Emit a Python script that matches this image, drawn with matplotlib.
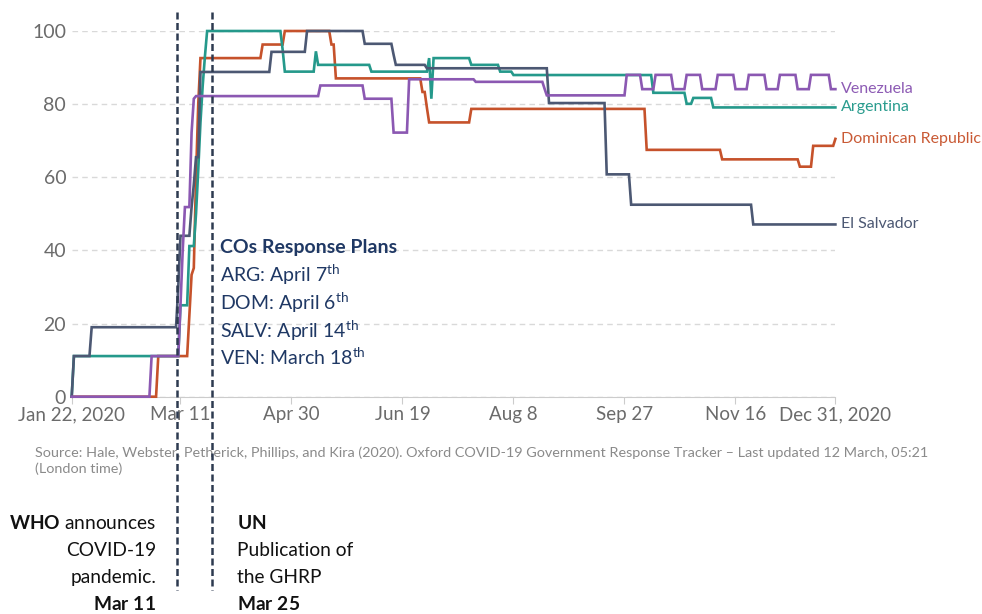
import matplotlib
matplotlib.use('Agg')
import matplotlib.pyplot as plt
from matplotlib.lines import Line2D
import pandas as pd

plt.rcParams['font.family'] = ['Lato', 'DejaVu Sans']
plt.rcParams['mathtext.fontset'] = 'custom'
plt.rcParams['mathtext.rm'] = 'Lato'
plt.rcParams['mathtext.it'] = 'Lato:italic'
plt.rcParams['mathtext.bf'] = 'Lato:bold'

# stringency index, each value holds from its date on
arg_dates = ['2020-01-22', '2020-01-23', '2020-03-11', '2020-03-15', '2020-03-18',
             '2020-03-19', '2020-03-20', '2020-03-21', '2020-03-22', '2020-03-23',
             '2020-04-26', '2020-04-27', '2020-05-11', '2020-05-12', '2020-06-05',
             '2020-07-01', '2020-07-02', '2020-07-03', '2020-07-20', '2020-08-02',
             '2020-08-08', '2020-10-10', '2020-10-25', '2020-10-28', '2020-11-06']
arg_values = [0, 11.11, 25.0, 41.2, 50, 62, 75, 85, 93, 100,
              95, 88.89, 94.44, 90.74, 88.89,
              92.59, 81.48, 92.59, 90.74, 88.89,
              87.96, 83.1, 80.09, 81.7, 79.1]

dom_dates = ['2020-01-22', '2020-03-01', '2020-03-15', '2020-03-16', '2020-03-17',
             '2020-03-18', '2020-03-19', '2020-03-20', '2020-04-17', '2020-04-27',
             '2020-05-18', '2020-05-20', '2020-06-28', '2020-06-30', '2020-07-01',
             '2020-07-20', '2020-10-07', '2020-11-10', '2020-12-15', '2020-12-21',
             '2020-12-31']
dom_values = [0, 11.11, 22, 33.33, 35.19,
              60, 80, 92.59, 96.3, 100,
              96.3, 87.04, 83.33, 79, 75.0,
              78.7, 67.5, 64.9, 62.9, 68.6,
              70.5]

slv_dates = ['2020-01-22', '2020-01-23', '2020-01-31', '2020-03-10', '2020-03-11',
             '2020-03-16', '2020-03-17', '2020-03-18', '2020-03-20', '2020-04-21',
             '2020-05-07', '2020-06-02', '2020-06-15', '2020-06-16', '2020-06-30',
             '2020-08-24', '2020-09-19', '2020-09-30', '2020-11-24']
slv_values = [0, 11.11, 19.0, 30, 44.0,
              51.85, 58, 65.5, 88.8, 94.3,
              100, 96.5, 93.5, 90.74, 89.81,
              80.3, 60.8, 52.5, 47.1]

ven_dates = ['2020-01-22', '2020-02-27', '2020-03-11', '2020-03-12', '2020-03-13',
             '2020-03-16', '2020-03-17', '2020-03-18', '2020-05-13', '2020-06-02',
             '2020-06-15', '2020-06-22', '2020-07-22', '2020-08-22', '2020-08-23',
             '2020-09-28', '2020-10-05', '2020-10-11', '2020-10-19', '2020-10-25',
             '2020-11-01', '2020-11-08', '2020-11-16', '2020-11-22', '2020-11-30',
             '2020-12-06', '2020-12-14', '2020-12-20', '2020-12-29']
ven_values = [0, 11.11, 25, 40, 51.85,
              72.22, 81.48, 82.2, 85.1, 81.48,
              72.22, 86.8, 86.1, 84.2, 82.4,
              88.0, 84.1, 88.0, 84.1, 88.0,
              84.1, 88.0, 84.1, 88.0, 84.1,
              88.0, 84.1, 88.0, 84.1]

countries = ['Dominican Republic', 'Argentina', 'El Salvador', 'Venezuela']
colors = ['#c6522b', '#25998b', '#4c5873', '#8b58b2']
label_colors = ['#c95a35', '#2a9c8e', '#4c5873', '#8d5bb4']
series_dates = [dom_dates, arg_dates, slv_dates, ven_dates]
series_values = [dom_values, arg_values, slv_values, ven_values]

tick_dates = ['2020-01-22', '2020-03-11', '2020-04-30', '2020-06-19',
              '2020-08-08', '2020-09-27', '2020-11-16', '2020-12-31']
tick_labels = ['Jan 22, 2020', 'Mar 11', 'Apr 30', 'Jun 19',
               'Aug 8', 'Sep 27', 'Nov 16', 'Dec 31, 2020']

days = pd.date_range('2020-01-22', '2020-12-31', freq='D')


def daily(dates, values):
    s = pd.Series(values, index=pd.to_datetime(dates))
    return s.reindex(days).ffill()


W, H = 982, 614


def fx(x):
    return x / W


def fy(y):
    return 1 - y / H


fig = plt.figure(figsize=(W / 100, H / 100), dpi=100)
ax = fig.add_axes([fx(71.7), fy(396.7), (835.4 - 71.7) / W, (396.7 - 31) / H])

for name, c, lc, d, v in zip(countries, colors, label_colors, series_dates, series_values):
    s = daily(d, v)
    ax.plot(s.index, s.values, color=c, lw=1.9, clip_on=False, zorder=3,
            solid_joinstyle='miter')
    ax.annotate(name, (s.index[-1], s.values[-1]), xytext=(4, 0),
                textcoords='offset points', va='center', ha='left',
                color=lc, fontsize=11.5)

ax.set_xlim(days[0], days[-1])
ax.set_ylim(0, 100)
ax.set_yticks([0, 20, 40, 60, 80, 100])
ax.yaxis.grid(True, color='#d9d9d9', linestyle=(0, (4, 3)), lw=1)
ax.set_axisbelow(True)
ax.set_xticks(pd.to_datetime(tick_dates))
ax.set_xticklabels(tick_labels)
for sp in ['left', 'right', 'top']:
    ax.spines[sp].set_visible(False)
ax.spines['bottom'].set_color('#cccccc')
ax.tick_params(axis='y', length=0, pad=4, labelsize=14, labelcolor='#6b6b6b')
ax.tick_params(axis='x', length=5, color='#cccccc', pad=2, labelsize=13.5,
               labelcolor='#6b6b6b')

# plan annotation
navy = '#1f3864'
fig.text(fx(220), fy(253), 'COs Response Plans', fontsize=14, fontweight='bold',
         color=navy, va='baseline')
plan_lines = [r'ARG: April 7$^{\mathrm{th}}$', r'DOM: April 6$^{\mathrm{th}}$',
              r'SALV: April 14$^{\mathrm{th}}$', r'VEN: March 18$^{\mathrm{th}}$']
for i, t in enumerate(plan_lines):
    fig.text(fx(220), fy(282 + i * 27.7), t, fontsize=14, color=navy, va='baseline')

fig.text(fx(35), fy(457), 'Source: Hale, Webster, Petherick, Phillips, and Kira (2020). '
         'Oxford COVID-19 Government Response Tracker \u2013 Last updated 12 March, 05:21',
         fontsize=10.4, color='#8a8a8a', va='baseline')
fig.text(fx(35), fy(473), '(London time)', fontsize=10.4, color='#8a8a8a', va='baseline')

left_notes = [r'$\mathbf{WHO}$ announces', 'COVID-19', 'pandemic.', r'$\mathbf{Mar\ 11}$']
right_notes = [r'$\mathbf{UN}$', 'Publication of', 'the GHRP', r'$\mathbf{Mar\ 25}$']
for i, t in enumerate(left_notes):
    fig.text(fx(156), fy(529 + i * 27), t, fontsize=13.8, color='#111111',
             ha='right', va='baseline')
for i, t in enumerate(right_notes):
    fig.text(fx(237), fy(529 + i * 27), t, fontsize=13.8, color='#111111',
             ha='left', va='baseline')

# event markers (WHO pandemic, GHRP)
for x in [176.7, 211.7]:
    fig.add_artist(Line2D([fx(x), fx(x)], [fy(12), fy(590)], transform=fig.transFigure,
                          color='#2d3a50', lw=1.8, linestyle=(0, (2.8, 1.4)), zorder=10))

fig.savefig('out.png', dpi=100)
